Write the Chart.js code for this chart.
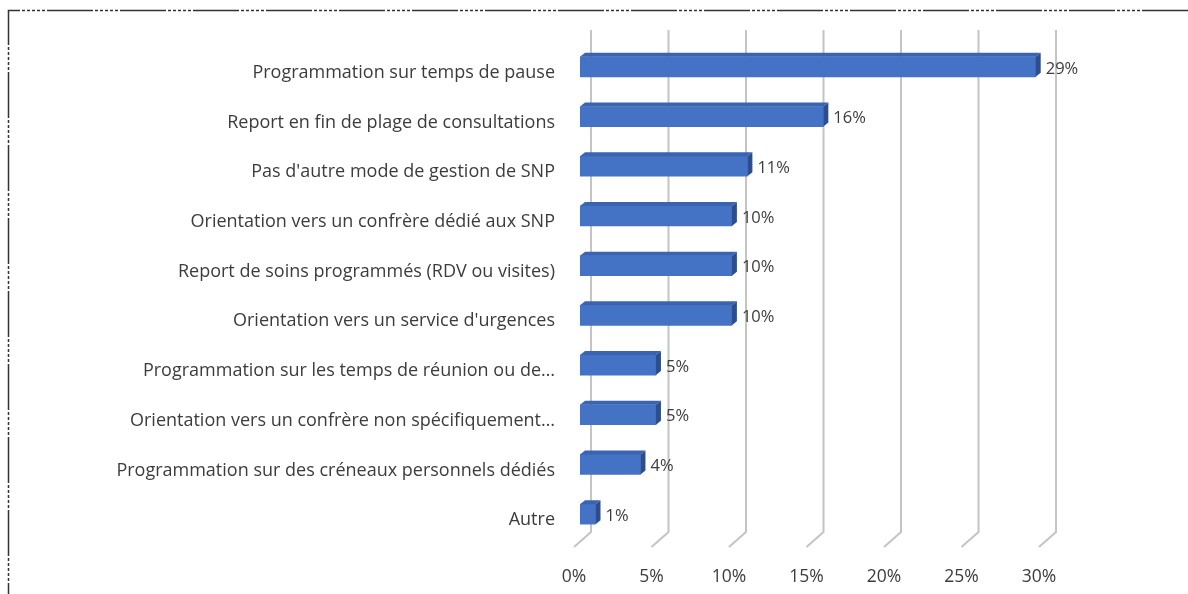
<!DOCTYPE html>
<html>
<head>
<meta charset="utf-8">
<script src="https://cdn.jsdelivr.net/npm/chart.js@4.4.0/dist/chart.umd.min.js"></script>
<style>
  html, body { margin: 0; padding: 0; background: #fff; }
  #wrap { width: 1188px; height: 594px; position: relative; }
</style>
</head>
<body>
<div id="wrap"><canvas id="graf" width="1188" height="594"></canvas></div>
<script>
const categories = [
  'Programmation sur temps de pause',
  'Report en fin de plage de consultations',
  "Pas d'autre mode de gestion de SNP",
  'Orientation vers un confrère dédié aux SNP',
  'Report de soins programmés (RDV ou visites)',
  "Orientation vers un service d'urgences",
  'Programmation sur les temps de réunion ou de…',
  'Orientation vers un confrère non spécifiquement…',
  'Programmation sur des créneaux personnels dédiés',
  'Autre'
]
const valeurs = [29.4, 15.7, 10.8, 9.8, 9.8, 9.8, 4.9, 4.9, 3.9, 1.0]
const ticksX = [0, 5, 10, 15, 20, 25, 30]

const texte = '#3c3c3c'
const bleu = '#4472c4'
const dessus = '#3b64b0'
const cote = '#2c4d8f'

// decalage des barres par rapport au centre de la categorie
const decY = -6
const profX = 5, profY = 4

const bordure = {
  id: 'bordure',
  beforeDraw(chart) {
    const ctx = chart.ctx
    ctx.save()
    ctx.strokeStyle = '#333'
    ctx.lineWidth = 1.5
    ctx.setLineDash([46, 2, 3, 2, 3, 2, 3, 2, 3, 2, 3, 2])
    ctx.beginPath()
    ctx.moveTo(1188, 10.5)
    ctx.lineTo(8.5, 10.5)
    ctx.lineTo(8.5, 594)
    ctx.stroke()
    ctx.restore()
  }
}

const grille3d = {
  id: 'grille3d',
  beforeDatasetsDraw(chart) {
    const ctx = chart.ctx
    const x = chart.scales.x
    ctx.save()
    ctx.strokeStyle = '#c4c4c4'
    ctx.lineWidth = 2
    ticksX.forEach(v => {
      const xb = x.getPixelForValue(v) + 11
      ctx.beginPath()
      ctx.moveTo(xb, 30)
      ctx.lineTo(xb, 532)
      ctx.lineTo(xb - 17, 547)
      ctx.stroke()
    })
    ctx.restore()
    ctx.save()
    ctx.translate(0, decY)
  },
  afterDatasetsDraw(chart) {
    const ctx = chart.ctx
    const meta = chart.getDatasetMeta(0)
    meta.data.forEach((bar, i) => {
      const top = bar.y - bar.height / 2
      const bas = bar.y + bar.height / 2
      ctx.fillStyle = dessus
      ctx.beginPath()
      ctx.moveTo(bar.base, top)
      ctx.lineTo(bar.x, top)
      ctx.lineTo(bar.x + profX, top - profY)
      ctx.lineTo(bar.base + profX, top - profY)
      ctx.closePath()
      ctx.fill()
      ctx.fillStyle = cote
      ctx.beginPath()
      ctx.moveTo(bar.x, top)
      ctx.lineTo(bar.x + profX, top - profY)
      ctx.lineTo(bar.x + profX, bas - profY)
      ctx.lineTo(bar.x, bas)
      ctx.closePath()
      ctx.fill()
      ctx.fillStyle = texte
      ctx.font = '16.5px "Open Sans"'
      ctx.textAlign = 'left'
      ctx.textBaseline = 'middle'
      ctx.fillText(Math.round(valeurs[i]) + '%', bar.x + profX + 5, bar.y + 2)
    })
    ctx.restore()
  }
}

new Chart(document.getElementById('graf').getContext('2d'), {
  type: 'bar',
  data: {
    labels: categories,
    datasets: [{
      data: valeurs,
      backgroundColor: bleu,
      borderWidth: 0,
      barThickness: 20
    }]
  },
  options: {
    indexAxis: 'y',
    responsive: false,
    animation: false,
    layout: { padding: { top: 48, right: 143, left: 0, bottom: 0 } },
    plugins: { legend: { display: false }, tooltip: { enabled: false } },
    scales: {
      x: {
        min: 0,
        max: 30,
        border: { display: false },
        grid: { display: false, drawTicks: false },
        afterFit(s) { s.height = 49 },
        ticks: {
          stepSize: 5,
          padding: 22,
          labelOffset: -6,
          color: texte,
          font: { family: '"Open Sans"', size: 17.5 },
          callback: v => v + '%'
        }
      },
      y: {
        border: { display: false },
        grid: { display: false, drawTicks: false },
        afterFit(s) { s.width = 580 },
        ticks: {
          padding: 25,
          color: texte,
          font: { family: '"Open Sans"', size: 18 }
        }
      }
    }
  },
  plugins: [bordure, grille3d]
})
</script>
</body>
</html>
